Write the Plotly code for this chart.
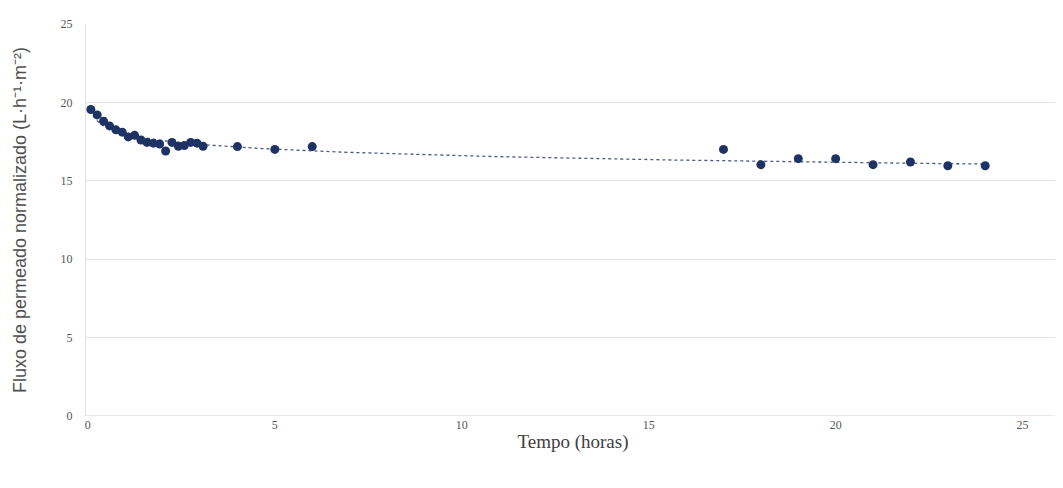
import numpy as np
import plotly.graph_objects as go

# Data
tempo_h = [0.08, 0.25, 0.42, 0.58, 0.75, 0.92, 1.08, 1.25, 1.42, 1.58, 1.75, 1.92,
           2.08, 2.25, 2.42, 2.58, 2.75, 2.92, 3.08,
           4, 5, 6, 17, 18, 19, 20, 21, 22, 23, 24]
fluxo = [19.55, 19.2, 18.8, 18.5, 18.25, 18.1, 17.8, 17.9, 17.6, 17.45, 17.4, 17.35,
         16.9, 17.45, 17.2, 17.25, 17.45, 17.4, 17.2,
         17.18, 17.0, 17.18, 17.0, 16.03, 16.41, 16.41, 16.03, 16.2, 15.96, 15.96]

x_ticks = [0, 5, 10, 15, 20, 25]
y_ticks = [0, 5, 10, 15, 20, 25]

# logarithmic trendline fitted to the data
xa = np.array(tempo_h)
ya = np.array(fluxo)
a, b = np.polyfit(np.log(xa), ya, 1)
xt = np.linspace(xa.min(), xa.max(), 300)
yt = a * np.log(xt) + b

navy = "#1f3264"

fig = go.Figure()
fig.add_trace(go.Scatter(x=xt, y=yt, mode="lines",
                         line=dict(color="#4a5a80", width=1.3, dash="dot"),
                         showlegend=False, hoverinfo="skip"))
fig.add_trace(go.Scatter(x=tempo_h, y=fluxo, mode="markers",
                         marker=dict(color=navy, size=9, line=dict(width=0)),
                         showlegend=False))

fig.update_layout(
    width=1055, height=480,
    margin=dict(l=78, r=3, t=16, b=72),
    paper_bgcolor="white", plot_bgcolor="white",
    font=dict(family="Liberation Serif", color="#555555", size=12),
    xaxis=dict(range=[-0.05, 26.0], tickvals=x_ticks, showgrid=False, automargin=False,
               zeroline=False, showline=False, ticks="", ticklen=0,
               tickfont=dict(family="Liberation Serif", size=12, color="#555555"),
               title=dict(text="Tempo (horas)", standoff=3,
                          font=dict(family="Liberation Serif", size=19, color="#404040"))),
    yaxis=dict(range=[0, 25], tickvals=y_ticks, showgrid=True, automargin=False,
               gridcolor="#e3e3e3", gridwidth=1.2,
               zeroline=False, showline=True, linecolor="#e3e3e3", linewidth=1.2,
               ticks="", ticklabelstandoff=10,
               tickfont=dict(family="Liberation Serif", size=12, color="#555555"),
               title=dict(text="Fluxo de permeado normalizado (L·h⁻¹·m⁻²)", standoff=29,
                          font=dict(family="Liberation Sans", size=18, color="#505050"))),
)
fig.add_shape(type="line", xref="paper", yref="y", x0=0, x1=1, y0=0, y1=0,
              line=dict(color="#e3e3e3", width=1.5), layer="below")

fig.write_html("out.html")
